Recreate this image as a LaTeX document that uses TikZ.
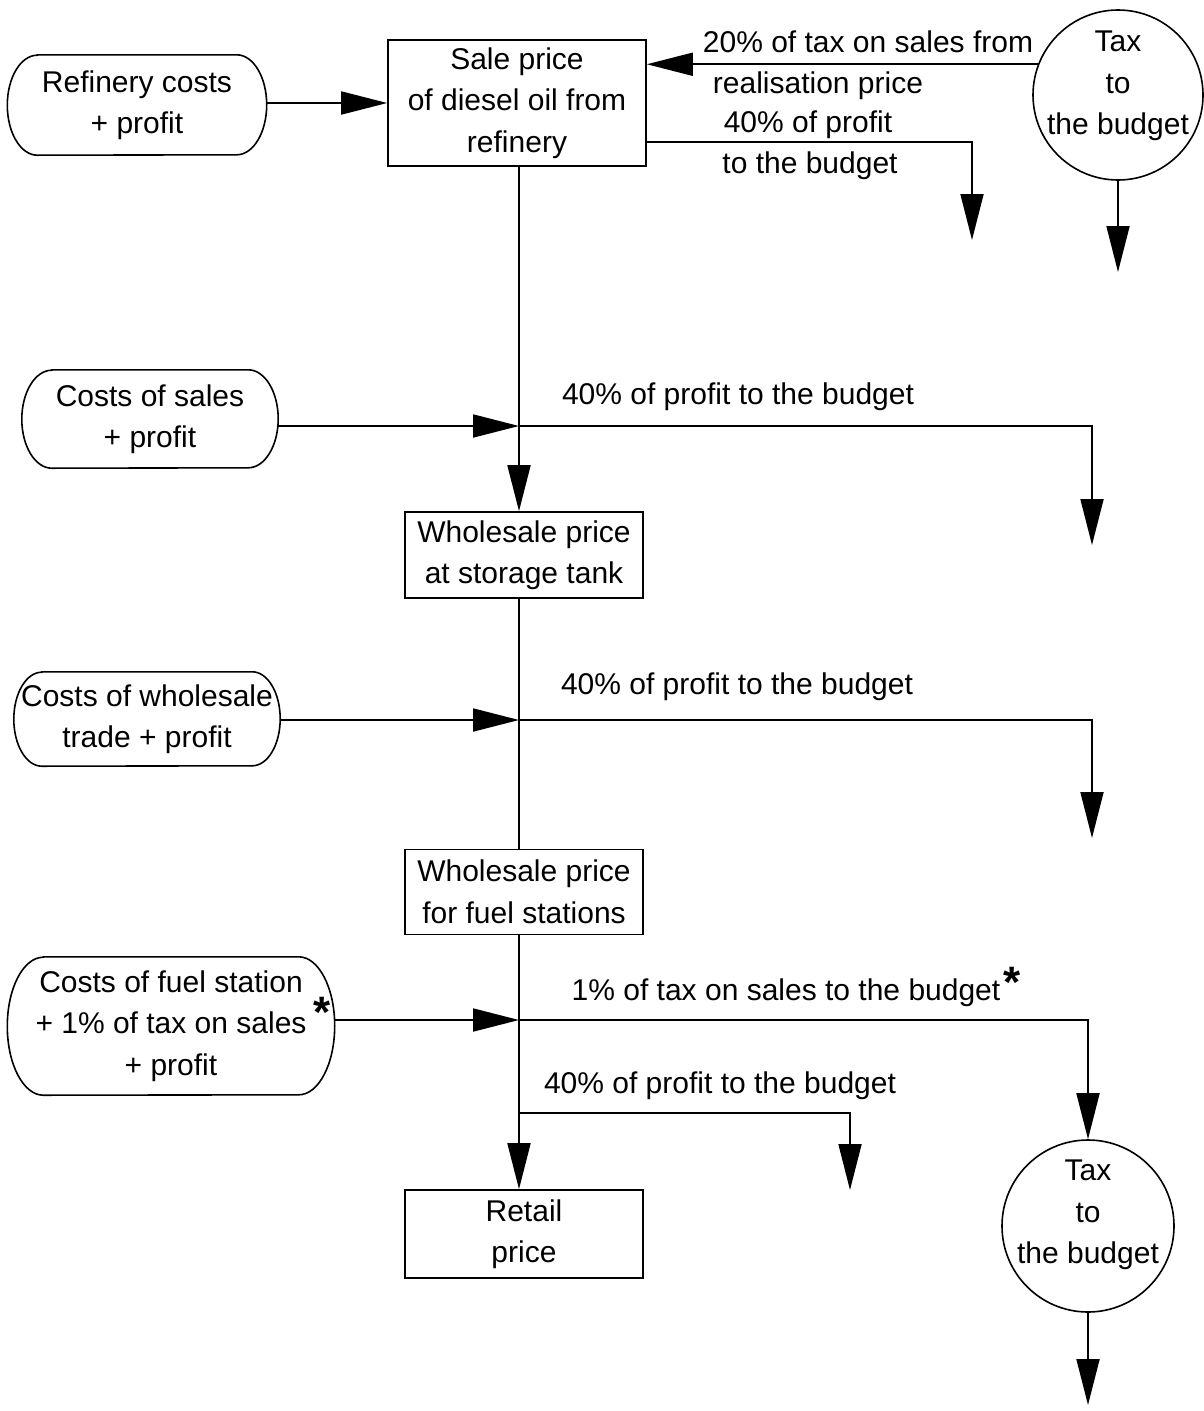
\documentclass[tikz,border=0pt]{standalone}
\usepackage{fontspec}
\setmainfont{Liberation Sans}
\usetikzlibrary{arrows.meta}
% outline of a cost box: straight top and bottom, half-ellipse ends
% #1 node name, #2 end bulge, #3 half height
\newcommand\costoutline[3]{%
  \draw[line width=1.6pt] ([xshift=#2]#1.north west) -- ([xshift=-#2]#1.north east)
    arc[start angle=90, end angle=-90, x radius=#2, y radius=#3]
    -- ([xshift=#2]#1.south west)
    arc[start angle=270, end angle=90, x radius=#2, y radius=#3] -- cycle;}
\begin{document}
\begin{tikzpicture}[x=1pt,y=-1pt,
  every node/.style={font=\fontsize{30}{41.5}\selectfont, align=center, inner sep=0pt},
  pricebox/.style={draw, line width=1.6pt, rectangle},
  costbox/.style={rectangle},
  taxcircle/.style={draw, line width=1.6pt, circle},
  lbl/.style={},
  star/.style={font=\fontsize{44}{44}\bfseries\selectfont},
  link/.style={line width=1.8pt},
  flow/.style={line width=1.8pt, -{Triangle[length=46pt,width=23pt]}}]
\useasboundingbox (0,0) rectangle (1203,1411);

% price stages
\node[pricebox, minimum width=258pt, minimum height=126pt] (sale) at (517,103) {Sale price\\of diesel oil from\\refinery};
\node[pricebox, minimum width=238pt, minimum height=86pt] (storage) at (524,555) {Wholesale price\\at storage tank};
\node[pricebox, minimum width=238pt, minimum height=85pt] (fuel) at (524,892) {Wholesale price\\for fuel stations};
\node[pricebox, minimum width=238pt, minimum height=88pt] (retail) at (524,1234) {Retail\\price};

% cost components
\node[costbox, minimum width=259pt, minimum height=100pt] (ref) at (137,105) {Refinery costs\\+ profit};
\costoutline{ref}{30pt}{50pt}
\node[costbox, minimum width=256pt, minimum height=98pt] (sales) at (150,419) {Costs of sales\\+ profit};
\costoutline{sales}{30pt}{49pt}
\node[costbox, minimum width=266pt, minimum height=94pt] (whole) at (147,719) {Costs of wholesale\\trade + profit};
\costoutline{whole}{28pt}{47pt}
\node[costbox, minimum width=327pt, minimum height=138pt] (station) at (171,1026) {Costs of fuel station\\+ 1\% of tax on sales\\+ profit};
\costoutline{station}{36pt}{69pt}
\node[star] (star1) at (322,1012) {*};

% budget circles
\node[taxcircle, minimum size=170pt] (tax1) at (1118,95) {};
\node (tax1t) at (1118,86) {Tax\\to\\the budget};
\node[taxcircle, minimum size=172pt] (tax2) at (1088,1226) {};
\node (tax2t) at (1088,1215) {Tax\\to\\the budget};

% junctions and free ends
\coordinate (j1) at (519,426);
\coordinate (j2) at (519,720);
\coordinate (j3) at (519,1020);
\coordinate (j4) at (519,1113);
\coordinate (r1) at (700,142);
\coordinate (e1) at (972,240);
\coordinate (e2) at (1118,272);
\coordinate (e3) at (1092,545);
\coordinate (e4) at (1092,838);
\coordinate (e5) at (850,1190);
\coordinate (e6) at (1088,1405);

% refinery stage
\draw[flow] (ref.east |- sale.center) -- (sale.west);
\draw[flow] (tax1.159) -- (sale.east |- tax1.159);
\draw[flow] (sale.east |- r1) -| (e1);
\draw[flow] (tax1.south) -- (e2);
\node[lbl] (l1a) at (868,42) {20\% of tax on sales from};
\node[lbl] (l1b) at (818,86) {realisation price};
\node[lbl] (l2a) at (808,125) {40\% of profit};
\node[lbl] (l2b) at (810,166) {to the budget};

% sales stage
\draw[link] (j1 |- sale.south) -- (j1);
\draw[flow] (sales.east |- j1) -- (j1);
\draw[flow] (j1) -| (e3);
\draw[flow] (j1) -- (j1 |- storage.north);
\node[lbl] (l3) at (738,397) {40\% of profit to the budget};

% wholesale stage
\draw[link] (j2 |- storage.south) -- (j2);
\draw[flow] (whole.east |- j2) -- (j2);
\draw[flow] (j2) -| (e4);
\draw[link] (j2) -- (j2 |- fuel.north);
\node[lbl] (l4) at (737,687) {40\% of profit to the budget};

% fuel station stage
\draw[link] (j3 |- fuel.south) -- (j3);
\draw[flow] (station.east |- j3) -- (j3);
\draw[flow] (j3) -| (tax2.north);
\draw[link] (j3) -- (j4);
\draw[flow] (j4) -| (e5);
\draw[flow] (j4) -- (j4 |- retail.north);
\draw[flow] (tax2.south) -- (e6);
\node[lbl] (l5) at (786,993) {1\% of tax on sales to the budget};
\node[star] (star2) at (1012,982) {*};
\node[lbl] (l6) at (720,1086) {40\% of profit to the budget};
\end{tikzpicture}
\end{document}
